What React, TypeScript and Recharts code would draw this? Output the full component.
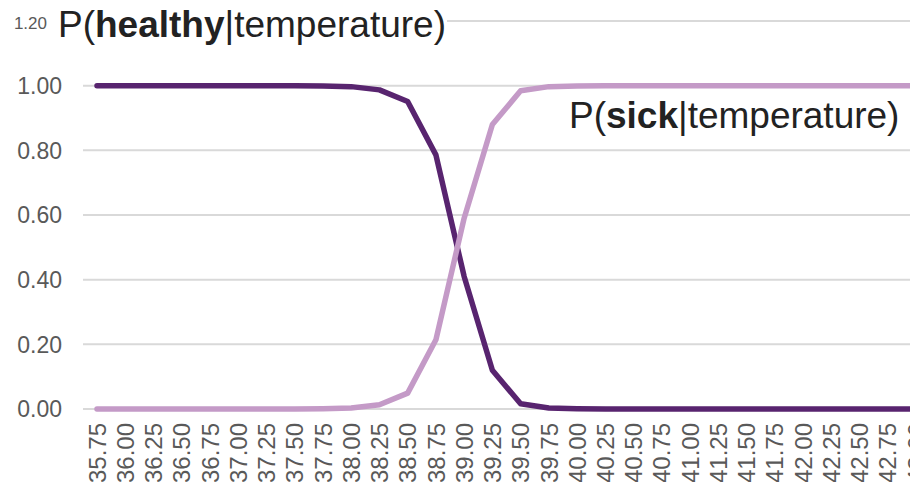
import { LineChart, Line, XAxis, YAxis, CartesianGrid } from "recharts";

const temperatures = [
  "35.75", "36.00", "36.25", "36.50", "36.75", "37.00", "37.25", "37.50",
  "37.75", "38.00", "38.25", "38.50", "38.75", "39.00", "39.25", "39.50",
  "39.75", "40.00", "40.25", "40.50", "40.75", "41.00", "41.25", "41.50",
  "41.75", "42.00", "42.25", "42.50", "42.75", "43.00",
];

const healthy = [
  1.0, 1.0, 1.0, 1.0, 1.0, 1.0, 1.0, 1.0,
  0.999, 0.997, 0.987, 0.951, 0.786, 0.41, 0.12, 0.016,
  0.003, 0.001, 0, 0, 0, 0, 0, 0,
  0, 0, 0, 0, 0, 0,
];

const sick = [
  0, 0, 0, 0, 0, 0, 0, 0,
  0.001, 0.003, 0.013, 0.049, 0.214, 0.59, 0.88, 0.984,
  0.997, 0.999, 1.0, 1.0, 1.0, 1.0, 1.0, 1.0,
  1.0, 1.0, 1.0, 1.0, 1.0, 1.0,
];

const yTicks = [0, 0.2, 0.4, 0.6, 0.8, 1.0, 1.2];

const data = temperatures.map((t, i) => ({ t, healthy: healthy[i], sick: sick[i] }));

const FONT = '"Liberation Sans", Arial, sans-serif';
const TICK_COLOR = "#595959";

function XTick({ x, y, payload }: any) {
  return (
    <g transform={`translate(${x},${y})`}>
      <text
        transform="rotate(-90)"
        x={0}
        y={0}
        dy="0.36em"
        textAnchor="end"
        fill={TICK_COLOR}
        fontSize={24}
        fontFamily={FONT}
      >
        {payload.value}
      </text>
    </g>
  );
}

function YTick({ x, y, payload }: any) {
  // the top label is drawn smaller in the original
  const top = payload.value === 1.2;
  return (
    <text
      x={top ? x - 15 : x}
      y={top ? y + 2 : y}
      dy="0.36em"
      textAnchor="end"
      fill={TICK_COLOR}
      fontSize={top ? 17 : 23}
      fontFamily={FONT}
    >
      {payload.value.toFixed(2)}
    </text>
  );
}

export default function App() {
  return (
    <div
      style={{
        position: "absolute",
        left: 0,
        top: 0,
        width: 910,
        height: 482,
        overflow: "hidden",
        background: "#fff",
      }}
    >
      <LineChart
        width={930}
        height={482}
        data={data}
        margin={{ top: 21, right: 0, bottom: 0, left: 0 }}
      >
        <CartesianGrid vertical={false} stroke="#d9d9d9" strokeWidth={2} />
        <XAxis
          dataKey="t"
          interval={0}
          height={73}
          padding={{ left: 14, right: 14 }}
          axisLine={false}
          tickLine={false}
          tickSize={0}
          tickMargin={14}
          tick={<XTick />}
        />
        <YAxis
          width={83}
          domain={[0, 1.2]}
          ticks={yTicks}
          interval={0}
          axisLine={false}
          tickLine={false}
          tickSize={0}
          tickMargin={21}
          tick={<YTick />}
        />
        <Line
          dataKey="healthy"
          stroke="#58246f"
          strokeWidth={5.5}
          strokeLinecap="round"
          strokeLinejoin="round"
          dot={false}
          activeDot={false}
          isAnimationActive={false}
        />
        <Line
          dataKey="sick"
          stroke="#c49ac7"
          strokeWidth={5.5}
          strokeLinecap="round"
          strokeLinejoin="round"
          dot={false}
          activeDot={false}
          isAnimationActive={false}
        />
      </LineChart>
      <svg
        width={910}
        height={482}
        style={{ position: "absolute", left: 0, top: 0, pointerEvents: "none" }}
      >
        <rect x={51} y={6} width={396} height={46} fill="#fff" />
        <text x={58} y={37} fontSize={37} fontFamily={FONT} fill="#222">
          P(<tspan fontWeight="bold">healthy</tspan>|temperature)
        </text>
        <text x={569} y={128} fontSize={37} fontFamily={FONT} fill="#222">
          P(<tspan fontWeight="bold">sick</tspan>|temperature)
        </text>
      </svg>
    </div>
  );
}
